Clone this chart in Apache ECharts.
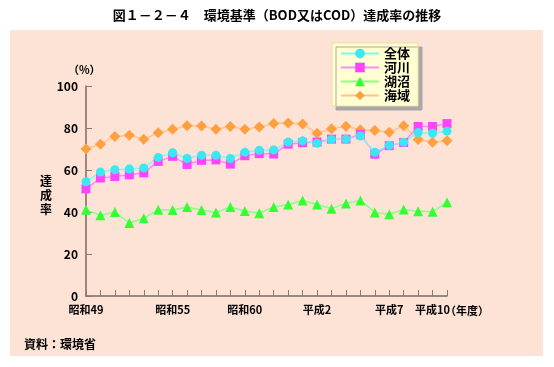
<!DOCTYPE html>
<html><head><meta charset="utf-8">
<script src="https://cdn.jsdelivr.net/npm/echarts@6/dist/echarts.min.js"></script>
<style>html,body{margin:0;padding:0;background:#fff}#c{width:554px;height:367px}</style>
</head><body><div id="c"></div>
<script>
const categories = ['昭和49','昭和50','昭和51','昭和52','昭和53','昭和54','昭和55','昭和56','昭和57','昭和58','昭和59','昭和60','昭和61','昭和62','昭和63','平成元','平成2','平成3','平成4','平成5','平成6','平成7','平成8','平成9','平成10','平成11'];
const shownLabels = ['昭和49','昭和55','昭和60','平成2','平成7','平成10'];
const zentai = [54.4, 59, 60.1, 60.5, 61, 66, 68.2, 65.5, 67, 67, 65.5, 68.5, 69.4, 69.5, 73.3, 73.9, 72.7, 74.5, 74.7, 76.2, 68.5, 71.8, 73.2, 77.8, 77.5, 78.5];
const kasen = [51, 56.2, 56.9, 57.7, 58.6, 64.1, 66.5, 62.6, 64.6, 64.8, 62.8, 66.8, 67.8, 67.6, 72.3, 73, 73.3, 74.7, 74.7, 77, 67.5, 71.6, 73.1, 80.7, 80.7, 82.1];
const kosho = [41.1, 38.4, 40, 34.8, 37, 41.1, 41, 42.4, 41, 39.8, 42.4, 40.5, 39.4, 42.4, 43.6, 45.5, 43.6, 41.6, 44.1, 45.5, 39.8, 38.9, 41.2, 40.3, 40.1, 44.6];
const kaiiki = [70, 72.3, 75.9, 76.6, 74.7, 77.7, 79.4, 81.1, 81, 79.4, 80.7, 79.4, 80.5, 82.1, 82.4, 81.9, 77.5, 79.7, 80.8, 79.2, 78.8, 78, 81.1, 74.5, 73.2, 73.9];
const yTicks = {min: 0, max: 100, interval: 20};

const FONT = '"Noto Sans CJK JP", sans-serif';
const chart = echarts.init(document.getElementById('c'), null, {renderer: 'canvas'});
function mk(name, data, symbol, size, color, lineColor) {
  return {name, type: 'line', data, symbol, symbolSize: size,
    itemStyle: {color: color}, lineStyle: {color: lineColor, width: 1.5},
    emphasis: {disabled: true}, animation: false};
}
chart.setOption({
  animation: false,
  textStyle: {fontFamily: FONT},
  graphic: [
    {type: 'rect', left: 10, top: 30, shape: {width: 533, height: 326}, style: {fill: '#fde3d6'}, z: -10},
    {type: 'text', left: 'center', top: 9, style: {text: '図１－２－４　環境基準（BOD又はCOD）達成率の推移', font: 'bold 13px ' + FONT, fill: '#000'}},
    {type: 'text', left: 68, top: 64, style: {text: '（%）', font: 'bold 11px ' + FONT, fill: '#000'}},
    {type: 'text', left: 40, top: 174, style: {text: '達\n成\n率', font: 'bold 12px ' + FONT, fill: '#000', lineHeight: 14}},
    {type: 'text', left: 445, top: 305, style: {text: '（年度）', font: 'bold 11px ' + FONT, fill: '#000'}},
    {type: 'text', left: 24, top: 338, style: {text: '資料：環境省', font: 'bold 12px ' + FONT, fill: '#000'}}
  ],
  legend: {
    orient: 'vertical', left: 332, top: 43, padding: [4, 8, 4, 8],
    itemWidth: 38, itemHeight: 12, itemGap: 1,
    backgroundColor: '#ffffd2', borderColor: '#f2dc9a', borderWidth: 1,
    shadowColor: '#a8a8a8', shadowOffsetX: 4, shadowOffsetY: 4, shadowBlur: 0,
    textStyle: {fontSize: 13, fontWeight: 'bold', color: '#000', fontFamily: FONT},
    data: ['全体', '河川', '湖沼', '海域']
  },
  grid: {left: 86, right: 107, top: 86, bottom: 71},
  xAxis: {
    type: 'category', data: categories, boundaryGap: false,
    axisLine: {lineStyle: {color: '#7a6a62', width: 1.5}},
    axisTick: {inside: true, length: 6, interval: 0, lineStyle: {color: '#8a7a72'}},
    axisLabel: {interval: 0, fontSize: 11, fontWeight: 'bold', color: '#000', margin: 8,
      formatter: v => shownLabels.includes(v) ? v : ''},
    splitLine: {show: false}
  },
  yAxis: {
    type: 'value', min: yTicks.min, max: yTicks.max, interval: yTicks.interval,
    axisLine: {show: true, lineStyle: {color: '#7a6a62', width: 1.5}},
    axisTick: {show: true, inside: true, length: 6, lineStyle: {color: '#8a7a72'}},
    axisLabel: {fontSize: 12, fontWeight: 'bold', color: '#000', margin: 8},
    splitLine: {show: false}
  },
  series: [
    mk('海域', kaiiki, 'diamond', 11, '#ffa040', '#ffc48a'),
    mk('湖沼', kosho, 'triangle', 10, '#33ff33', '#88ff88'),
    mk('河川', kasen, 'rect', 9, '#ff44ff', '#ff88ff'),
    mk('全体', zentai, 'circle', 9, '#3ae8f2', '#88f2f8')
  ]
});
</script></body></html>
